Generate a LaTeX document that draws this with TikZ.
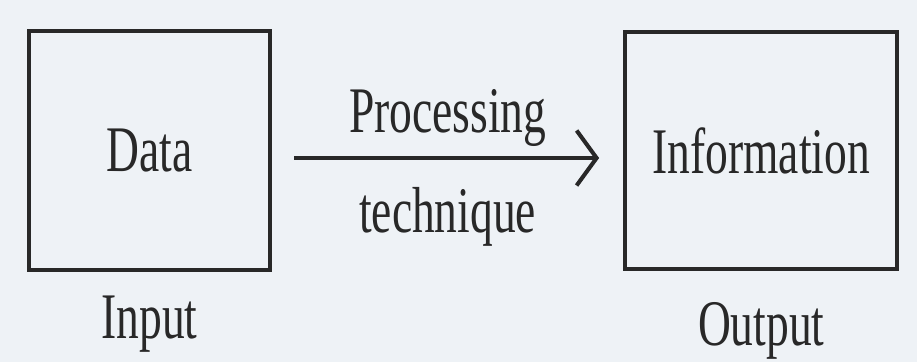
\documentclass[tikz,border=0pt]{standalone}
\usepackage{fontspec}
\setmainfont{Liberation Serif}[FakeStretch=0.7]
\usepackage{tikz}
\usetikzlibrary{arrows.meta, positioning}
\definecolor{paper}{RGB}{238,242,246}
\definecolor{ink}{RGB}{40,40,40}
\tikzstyle{block} = [rectangle, draw=ink, line width=2.4pt, text=ink, font=\fontsize{37}{40}\selectfont]
\tikzstyle{caption} = [inner sep=0pt, text=ink, font=\fontsize{37}{40}\selectfont]
\tikzstyle{arrow} = [line width=2.3pt, draw=ink, -{Straight Barb[length=0.4cm, width=1.1cm]}]

\begin{document}
\begin{tikzpicture}
  \fill[paper] (0,0) rectangle (18.34,-7.24);
  \useasboundingbox (0,0) rectangle (18.34,-7.24);

  % Boxes
  \node[block, minimum width=4.82cm, minimum height=4.78cm] (data) at (2.99,-3.01) {Data};
  \node[block, minimum width=5.44cm, minimum height=4.74cm, right=7.02cm of data] (info) {Information};

  % Captions
  \node[caption, below=0.46cm of data] (input) {Input};
  \node[caption, below=0.62cm of info] (output) {Output};

  % Arrow
  \draw[arrow, shorten <=0.44cm, shorten >=0.48cm] ([yshift=-0.15cm]data.east) -- ([yshift=-0.15cm]info.west)
    node[caption, midway, above=0.18cm] (proc) {Processing}
    node[caption, midway, below=0.55cm] (tech) {technique};

\end{tikzpicture}
\end{document}
